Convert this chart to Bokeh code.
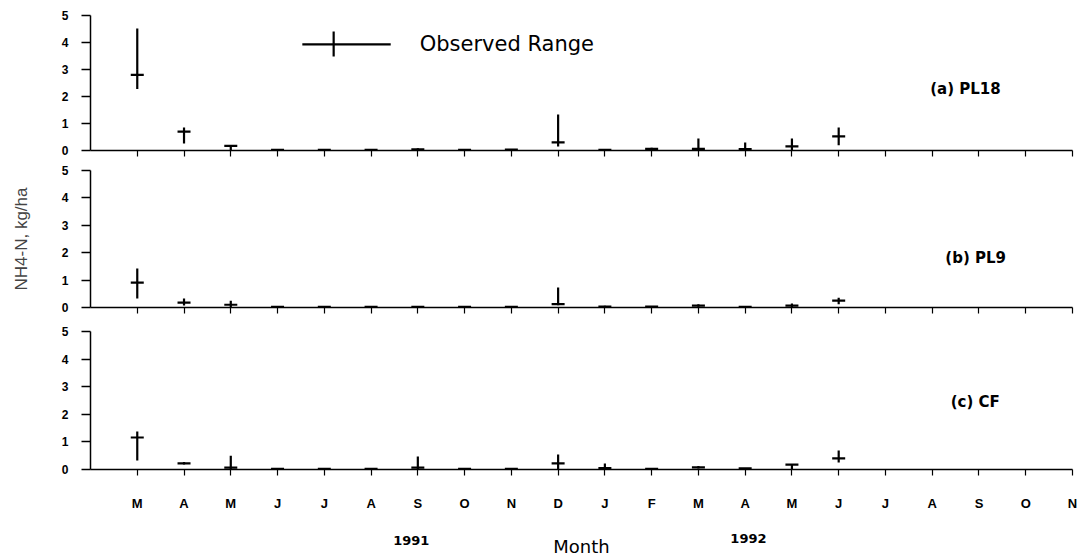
from bokeh.plotting import figure
from bokeh.layouts import column
from bokeh.models import Label, FixedTicker, ColumnDataSource, Range1d
from bokeh.core.properties import value
from bokeh.embed import file_html
from bokeh.resources import INLINE

# ---------------- data ----------------
month_labels = ["M", "A", "M", "J", "J", "A", "S", "O", "N", "D", "J",
                "F", "M", "A", "M", "J", "J", "A", "S", "O", "N"]
month_pos = list(range(1, 22))
sample_pos = list(range(1, 17))   # sampled months: Mar 1991 .. Jun 1992
y_ticks = [0, 1, 2, 3, 4, 5]

pl18_mean = [2.80, 0.70, 0.17, 0.02, 0.02, 0.02, 0.04, 0.02, 0.03, 0.30, 0.02, 0.06, 0.06, 0.05, 0.15, 0.52]
pl18_low = [2.28, 0.26, 0.00, 0.00, 0.00, 0.00, 0.01, 0.00, 0.01, 0.15, 0.00, 0.03, 0.00, 0.00, 0.00, 0.19]
pl18_high = [4.52, 0.85, 0.20, 0.04, 0.04, 0.04, 0.08, 0.04, 0.06, 1.33, 0.04, 0.10, 0.44, 0.30, 0.44, 0.85]

pl9_mean = [0.91, 0.18, 0.10, 0.02, 0.02, 0.02, 0.02, 0.02, 0.02, 0.12, 0.03, 0.03, 0.07, 0.02, 0.07, 0.25]
pl9_low = [0.33, 0.07, 0.00, 0.00, 0.00, 0.00, 0.00, 0.00, 0.00, 0.08, 0.00, 0.00, 0.03, 0.00, 0.02, 0.12]
pl9_high = [1.42, 0.33, 0.25, 0.04, 0.04, 0.04, 0.04, 0.04, 0.04, 0.73, 0.06, 0.05, 0.12, 0.04, 0.15, 0.36]

cf_mean = [1.16, 0.22, 0.07, 0.02, 0.02, 0.02, 0.07, 0.02, 0.02, 0.22, 0.05, 0.02, 0.08, 0.04, 0.18, 0.40]
cf_low = [0.33, 0.18, 0.00, 0.00, 0.00, 0.00, 0.00, 0.00, 0.00, 0.00, 0.00, 0.00, 0.04, 0.00, 0.00, 0.25]
cf_high = [1.38, 0.27, 0.50, 0.04, 0.04, 0.04, 0.47, 0.04, 0.04, 0.54, 0.22, 0.04, 0.13, 0.05, 0.20, 0.69]

panel_tags = ["(a) PL18", "(b) PL9", "(c) CF"]
year_labels = ["1991", "1992"]
year_pos = [6.86, 14.07]
legend_text = "Observed Range"

# ---------------- style ----------------
W = 1078
LEFT = 90
RIGHT = 6
TICK_FONT = "Liberation Sans"
WIDE_FONT = "DejaVu Sans"


def make_panel(height, top, bottom, means, lows, highs, tag, tag_xy, show_months):
    p = figure(width=W, height=height, x_range=Range1d(0, 21), y_range=Range1d(0, 5),
               output_backend="svg", toolbar_location=None,
               min_border_left=LEFT, min_border_right=RIGHT,
               min_border_top=top, min_border_bottom=bottom)
    p.outline_line_color = None
    p.grid.visible = False
    p.background_fill_color = "white"
    p.border_fill_color = "white"

    # y axis
    ya = p.yaxis[0]
    ya.ticker = FixedTicker(ticks=y_ticks, minor_ticks=[])
    ya.axis_line_width = 1.5
    ya.major_tick_line_width = 1.5
    ya.major_tick_out = 9
    ya.major_tick_in = 0
    ya.major_label_standoff = 13
    ya.major_label_text_font = TICK_FONT
    ya.major_label_text_font_style = "bold"
    ya.major_label_text_font_size = "12px"
    ya.major_label_text_color = "black"

    # x axis
    xa = p.xaxis[0]
    xa.ticker = FixedTicker(ticks=month_pos, minor_ticks=[])
    xa.axis_line_width = 1.5
    xa.major_tick_line_width = 1.2
    xa.major_tick_out = 6
    xa.major_tick_in = 0
    if show_months:
        xa.major_label_overrides = {m: lab for m, lab in zip(month_pos, month_labels)}
        xa.major_label_standoff = 20
        xa.major_label_text_font = TICK_FONT
        xa.major_label_text_font_style = "bold"
        xa.major_label_text_font_size = "13px"
        xa.major_label_text_color = "black"
    else:
        xa.major_label_text_color = None
        xa.major_label_standoff = 0

    src = ColumnDataSource(dict(x=sample_pos, mean=means, lo=lows, hi=highs))
    p.segment(x0="x", y0="lo", x1="x", y1="hi", source=src,
              line_color="black", line_width=2.2)
    p.scatter(x="x", y="mean", source=src, marker="dash", size=13,
              line_color="black", line_width=2.2)

    p.add_layout(Label(x=tag_xy[0], y=tag_xy[1], text=tag,
                       text_font=WIDE_FONT, text_font_style="bold",
                       text_font_size="15px", text_color="black",
                       text_align="center", text_baseline="middle"))
    return p


pa = make_panel(160, 15, 10, pl18_mean, pl18_low, pl18_high, panel_tags[0], (18.71, 2.26), False)
pb = make_panel(157, 10, 10, pl9_mean, pl9_low, pl9_high, panel_tags[1], (18.93, 1.82), False)
pc = make_panel(198, 14, 46, cf_mean, cf_low, cf_high, panel_tags[2], (18.92, 2.46), True)

# legend sample in panel (a)
pa.segment(x0=[4.53], y0=[3.93], x1=[6.42], y1=[3.93], line_color="black", line_width=2.2)
pa.segment(x0=[5.20], y0=[3.48], x1=[5.20], y1=[4.41], line_color="black", line_width=2.2)
pa.add_layout(Label(x=7.04, y=3.93, text=legend_text, text_font=WIDE_FONT,
                    text_font_size="21px", text_color="black",
                    text_align="left", text_baseline="middle"))

# y axis title on middle panel
pb.yaxis[0].axis_label = "NH4-N, kg/ha"
pb.yaxis[0].axis_label_text_font = TICK_FONT
pb.yaxis[0].axis_label_text_font_style = "normal"
pb.yaxis[0].axis_label_text_font_size = "17px"
pb.yaxis[0].axis_label_standoff = 28

# footer with year labels and x title
FOOT_H = 43
pf = figure(width=W, height=FOOT_H, x_range=Range1d(0, 21), y_range=Range1d(FOOT_H, 0),
            output_backend="svg", toolbar_location=None,
            x_axis_location=None, y_axis_location=None,
            min_border_left=LEFT, min_border_right=RIGHT,
            min_border_top=0, min_border_bottom=0)
pf.outline_line_color = None
pf.grid.visible = False
pf.text(x=year_pos, y=[25, 23], text=year_labels, text_font=value(WIDE_FONT),
        text_font_style="bold", text_font_size="13px", text_color="black",
        text_align="center", text_baseline="middle")
pf.text(x=[10.5], y=[31], text=["Month"], text_font=value(WIDE_FONT),
        text_font_size="18px", text_color="black",
        text_align="center", text_baseline="middle")

layout = column(pa, pb, pc, pf, spacing=0)
open("out.html", "w").write(file_html(layout, INLINE))
